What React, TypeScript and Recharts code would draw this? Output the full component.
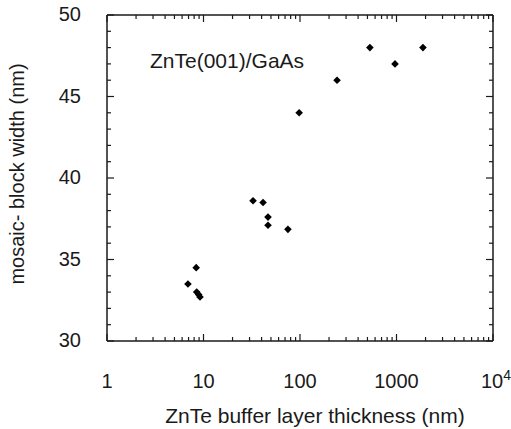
import React from 'react';
import { ScatterChart, Scatter, XAxis, YAxis } from 'recharts';

const thickness = [6.9, 8.4, 8.5, 8.9, 9.2, 32.6, 41.4, 46.6, 46.6, 75, 98, 242, 530, 965, 1880];
const blockWidth = [33.5, 34.5, 33.0, 32.85, 32.7, 38.6, 38.5, 37.6, 37.1, 36.85, 44.0, 46.0, 48.0, 47.0, 48.0];

const xMajorTicks = [1, 10, 100, 1000, 10000];
const xAllTicks = [
  1, 2, 3, 4, 5, 6, 7, 8, 9,
  10, 20, 30, 40, 50, 60, 70, 80, 90,
  100, 200, 300, 400, 500, 600, 700, 800, 900,
  1000, 2000, 3000, 4000, 5000, 6000, 7000, 8000, 9000,
  10000,
];
const yMajorTicks = [30, 35, 40, 45, 50];
const yAllTicks = [30, 31, 32, 33, 34, 35, 36, 37, 38, 39, 40, 41, 42, 43, 44, 45, 46, 47, 48, 49, 50];

const annotation = 'ZnTe(001)/GaAs';
const xTitle = 'ZnTe buffer layer thickness (nm)';
const yTitle = 'mosaic- block width (nm)';

const data = thickness.map((t, i) => ({ x: t, y: blockWidth[i] }));

const FONT = '"Liberation Sans", Arial, Helvetica, sans-serif';
const INK = '#1a1a1a';
const MAJOR = 7;
const MINOR = 4;

const isMajorX = (v: number) => xMajorTicks.includes(v);
const isMajorY = (v: number) => yMajorTicks.includes(v);

const xLabel = (v: number) => {
  if (v === 10000) {
    return (
      <>
        <tspan>10</tspan>
        <tspan dy={-8} fontSize={14}>4</tspan>
      </>
    );
  }
  return String(v);
};

const BottomTick = (props: any) => {
  const { x, y, payload } = props;
  const v = payload.value;
  const major = isMajorX(v);
  return (
    <g>
      <line x1={x} y1={y} x2={x} y2={y - (major ? MAJOR : MINOR)} stroke={INK} strokeWidth={1.2} />
      {major && (
        <text x={x + (v === 10000 ? 3 : 0)} y={y + 47} textAnchor="middle" fontSize={20} fill={INK} fontFamily={FONT}>
          {xLabel(v)}
        </text>
      )}
    </g>
  );
};

const TopTick = (props: any) => {
  const { x, y, payload } = props;
  const major = isMajorX(payload.value);
  return <line x1={x} y1={y} x2={x} y2={y + (major ? MAJOR : MINOR)} stroke={INK} strokeWidth={1.2} />;
};

const LeftTick = (props: any) => {
  const { x, y, payload } = props;
  const v = payload.value;
  const major = isMajorY(v);
  return (
    <g>
      <line x1={x} y1={y} x2={x + (major ? MAJOR : MINOR)} y2={y} stroke={INK} strokeWidth={1.2} />
      {major && (
        <text x={x - 26} y={y + 6} textAnchor="end" fontSize={20} fill={INK} fontFamily={FONT}>
          {v}
        </text>
      )}
    </g>
  );
};

const RightTick = (props: any) => {
  const { x, y, payload } = props;
  const major = isMajorY(payload.value);
  return <line x1={x} y1={y} x2={x - (major ? MAJOR : MINOR)} y2={y} stroke={INK} strokeWidth={1.2} />;
};

const Diamond = (props: any) => {
  const { cx, cy } = props;
  const r = 3.8;
  return (
    <polygon
      points={`${cx},${cy - r} ${cx + r},${cy} ${cx},${cy + r} ${cx - r},${cy}`}
      fill="#000"
    />
  );
};

export default function App() {
  return (
    <div style={{ position: 'absolute', left: 0, top: 0, width: 511, height: 429, background: '#fff' }}>
      <ScatterChart
        width={511}
        height={429}
        margin={{ top: 14, right: 17, bottom: 87, left: 106 }}
      >
        <XAxis
          xAxisId="b"
          dataKey="x"
          type="number"
          scale="log"
          domain={[1, 10000]}
          ticks={xAllTicks}
          interval={0}
          orientation="bottom"
          height={1}
          tickSize={0}
          tickMargin={0}
          tickLine={false}
          axisLine={{ stroke: INK, strokeWidth: 1.5 }}
          tick={<BottomTick />}
          allowDataOverflow
        />
        <XAxis
          xAxisId="t"
          dataKey="x"
          type="number"
          scale="log"
          domain={[1, 10000]}
          ticks={xAllTicks}
          interval={0}
          orientation="top"
          height={1}
          tickSize={0}
          tickMargin={0}
          tickLine={false}
          axisLine={{ stroke: INK, strokeWidth: 1.5 }}
          tick={<TopTick />}
          allowDataOverflow
        />
        <YAxis
          yAxisId="l"
          dataKey="y"
          type="number"
          domain={[30, 50]}
          ticks={yAllTicks}
          interval={0}
          orientation="left"
          width={1}
          tickSize={0}
          tickMargin={0}
          tickLine={false}
          axisLine={{ stroke: INK, strokeWidth: 1.5 }}
          tick={<LeftTick />}
          allowDataOverflow
        />
        <YAxis
          yAxisId="r"
          dataKey="y"
          type="number"
          domain={[30, 50]}
          ticks={yAllTicks}
          interval={0}
          orientation="right"
          width={1}
          tickSize={0}
          tickMargin={0}
          tickLine={false}
          axisLine={{ stroke: INK, strokeWidth: 1.5 }}
          tick={<RightTick />}
          allowDataOverflow
        />
        <Scatter
          data={data}
          xAxisId="b"
          yAxisId="l"
          shape={<Diamond />}
          isAnimationActive={false}
        />
        <text x={150} y={68} fontSize={21} fill={INK} fontFamily={FONT}>
          {annotation}
        </text>
        <text x={315} y={423} textAnchor="middle" fontSize={21} fill={INK} fontFamily={FONT}>
          {xTitle}
        </text>
        <text
          x={24}
          y={174}
          textAnchor="middle"
          fontSize={20}
          fill={INK}
          fontFamily={FONT}
          transform="rotate(-90 24 174)"
        >
          {yTitle}
        </text>
      </ScatterChart>
    </div>
  );
}
